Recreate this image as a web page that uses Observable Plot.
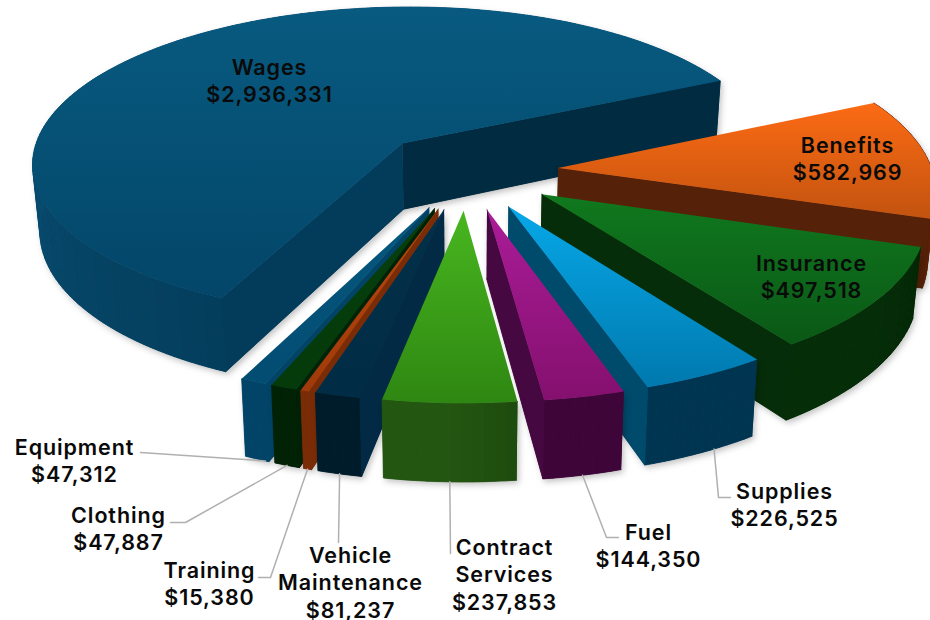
<!DOCTYPE html>
<html>
<head>
<meta charset="utf-8">
<style>
html,body{margin:0;padding:0;background:#fff;overflow:hidden}
svg{display:block}
svg text{letter-spacing:.9px}
</style>
<script src="https://cdn.jsdelivr.net/npm/d3@7"></script>
<script src="https://cdn.jsdelivr.net/npm/@observablehq/plot@0.6"></script>
</head>
<body>
<div id="chart"></div>
<script>
// ---- data ----
const categories = ["Wages","Benefits","Insurance","Supplies","Fuel","Contract Services","Vehicle Maintenance","Training","Clothing","Equipment"];
const amounts = [2936331,582969,497518,226525,144350,237853,81237,15380,47887,47312];
const labelLines = ["Wages","Benefits","Insurance","Supplies","Fuel","Contract\nServices","Vehicle\nMaintenance","Training","Clothing","Equipment"];

// ---- styles: [top light, top dark, outer wall at slice start, outer wall at slice end, start cut, end cut] ----
const palette = [
  ["#085a80","#034669","#043e5d","#0a5379","#033c5b","#012b40"],
  ["#fc6b14","#c2530f","#5a2208","#5a2208","#4e1e06","#552108"],
  ["#10791e","#0a5816","#042706","#052d08","#052a08","#062d09"],
  ["#07a8e8","#0079ae","#003551","#003551","#003551","#004a6c"],
  ["#aa1c98","#84106e","#3e0638","#3e0638","#3e0638","#450840"],
  ["#48b61f","#2e8712","#1e4c0e","#235611","#205210","#205210"],
  ["#033049","#012c46","#001c2b","#001c2b","#032a44","#032a44"],
  ["#b9460e","#a03a0a","#7a2c06","#7a2c06","#7a2c06","#7a2c06"],
  ["#063f0d","#053a0b","#022206","#022206","#022206","#022206"],
  ["#05587e","#034c72","#024468","#024468","#024468","#024468"]
];

// ---- layout ----
const drawOrder = [0,1,2,3,4,9,8,7,6,5];
const startAngle = 205, R = 374, explode = 92, cx = 466, cy = 170;
const ay = 0.425, k = 0.00032, depth = 67, shrink = 0.983;
// label centre and leader path (x, y in the chart's own pixel scale); leader begins on the slice
const labelAt = {
  "Wages":[269,79],"Benefits":[847,157],"Insurance":[811,275],"Supplies":[784,503],"Fuel":[648,544],
  "Contract Services":[504,573],"Vehicle Maintenance":[350,581],"Training":[209,582],"Clothing":[118,527],"Equipment":[74,459]
};
const leaderVia = {
  "Supplies":[[718,497],[730,497]],"Fuel":[[606,537],[618,537]],"Contract Services":[[450,553]],
  "Vehicle Maintenance":[[338,542]],"Training":[[270,577],[258,577]],"Clothing":[[185,522],[170,522]],"Equipment":[[140,452]]
};
const leaderAngle = {"Supplies":0.62,"Fuel":0.5,"Contract Services":0.5,"Vehicle Maintenance":0.5,"Training":0.5,"Clothing":0.5,"Equipment":0.85};

// ---- geometry derived from the values ----
const total = d3.sum(amounts);
const rad = d => d * Math.PI / 180;
function project(px, py, low) {
  const w = 1 - k * py;
  const X = px / w, Y = ay * py / w;
  return low ? [cx + X * shrink, cy + Y + depth / w] : [cx + X, cy + Y];
}
let running = startAngle;
const slices = categories.map((name, i) => {
  const span = amounts[i] / total * 360, a0 = running, a1 = running + span;
  running = a1;
  const mid = (a0 + a1) / 2;
  const ox = Math.sin(rad(mid)) * explode, oy = -Math.cos(rad(mid)) * explode;
  const pt = (a, r, low) => project(ox + Math.sin(rad(a)) * r, oy - Math.cos(rad(a)) * r, low);
  return {name, i, a0, a1, mid, pt};
});
const arc = (s, low) => {
  const n = Math.max(2, Math.ceil((s.a1 - s.a0) / 1.5));
  return d3.range(n + 1).map(j => s.pt(s.a0 + (s.a1 - s.a0) * j / n, R, low));
};
function wallFaces(s) {
  const rows = [];
  const push = (id, poly, fill) => poly.forEach(([x, y]) => rows.push({id: s.name + id, x, y, fill}));
  const p = palette[s.i];
  const top = arc(s, false), low = arc(s, true), n = top.length - 1;
  const mix = d3.interpolateRgb(p[2], p[3]);
  // outer wall first, built strip by strip so its silhouette stays full
  for (let j = 0; j < n; j++) {
    push("w" + j, [top[j], top[j + 1], low[j + 1], low[j]], mix(Math.min(1, j / n * 2.2)));
  }
  const apexT = s.pt(0, 0, false), apexB = s.pt(0, 0, true);
  const qs = [apexT, s.pt(s.a0, R, false), s.pt(s.a0, R, true), apexB];
  const qe = [apexT, s.pt(s.a1, R, false), s.pt(s.a1, R, true), apexB];
  if (d3.polygonArea(qe) < 0) push("e", qe, p[5]);
  if (d3.polygonArea(qs) > 0) push("s", qs, p[4]);
  return rows;
}
const topFace = s => [s.pt(0, 0, false), ...arc(s, false)].map(([x, y]) => ({x, y, fill: `url(#top${s.i})`}));

// ---- gradients ----
const gradients = () => {
  const svg = d3.create("svg:defs");
  palette.forEach((p, i) => {
    const g = svg.append("linearGradient").attr("id", "top" + i).attr("x1", 0).attr("y1", 0).attr("x2", 0).attr("y2", 1);
    g.append("stop").attr("offset", "0%").attr("stop-color", p[0]);
    g.append("stop").attr("offset", "100%").attr("stop-color", p[1]);
  });
  return svg.node();
};

// ---- leaders and labels ----
const leaders = categories.filter(n => leaderVia[n]).flatMap(n => {
  const s = slices[categories.indexOf(n)];
  const start = s.pt(s.a0 + (s.a1 - s.a0) * (1 - leaderAngle[n]), R, true);
  return [start, ...leaderVia[n]].map(([x, y]) => ({n, x, y}));
});
const labels = categories.map((n, i) => ({
  x: labelAt[n][0], y: labelAt[n][1],
  text: labelLines[i] + "\n$" + d3.format(",")(amounts[i])
}));

const chart = Plot.plot({
  width: 930, height: 620, margin: 0,
  x: {domain: [0, 930], range: [0, 930], axis: null},
  y: {domain: [0, 620], range: [0, 620], axis: null},
  style: {background: "#fff"},
  marks: [
    gradients,
    ...drawOrder.flatMap(i => {
      const s = slices[i];
      const faces = wallFaces(s);
      return [
        Plot.line(faces, {x: "x", y: "y", z: "id", fill: "fill", stroke: "none", imageFilter: "drop-shadow(2px 3px 3px rgba(0,0,0,.25))"}),
        Plot.line(faces, {x: "x", y: "y", z: "id", fill: "fill", stroke: "fill", strokeWidth: 0.8}),
        Plot.line(topFace(s), {x: "x", y: "y", fill: d => d.fill, stroke: "none"})
      ];
    }),
    Plot.line(leaders, {x: "x", y: "y", z: "n", stroke: "#b0b0b0", strokeWidth: 1.5}),
    Plot.text(labels, {x: "x", y: "y", text: "text", fontFamily: "Inter", fontWeight: 600, fontSize: 21.5, lineHeight: 1.28, fill: "#0a0a0a"})
  ]
});
document.getElementById("chart").append(chart);
</script>
</body>
</html>
